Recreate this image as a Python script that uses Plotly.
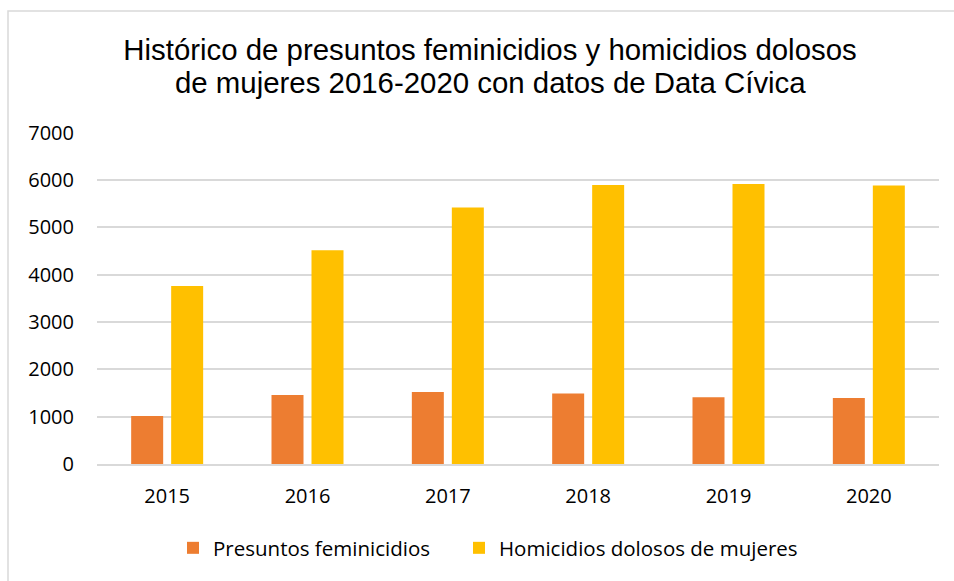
import plotly.graph_objects as go

years = ["2015", "2016", "2017", "2018", "2019", "2020"]
feminicidios = [1015, 1456, 1519, 1491, 1413, 1392]
homicidios = [3762, 4515, 5422, 5893, 5914, 5886]
series_names = ["Presuntos feminicidios", "Homicidios dolosos de mujeres"]
title_line1 = "Histórico de presuntos feminicidios y homicidios dolosos"
title_line2 = "de mujeres 2016-2020 con datos de Data Cívica"

W, H = 954, 581
L, R, T, B = 97, 15, 132, 117
pw, ph = W - L - R, H - T - B

def px_x(x):
    return (x - L) / pw

def px_y(y):
    return (H - B - y) / ph

fig = go.Figure()
fig.add_trace(go.Bar(x=years, y=feminicidios, name=series_names[0], legend="legend",
                     marker=dict(color="#ED7D31", line=dict(width=0))))
fig.add_trace(go.Bar(x=years, y=homicidios, name=series_names[1], legend="legend2",
                     marker=dict(color="#FFC000", line=dict(width=0))))

title_font = dict(family="Liberation Sans, Arial", size=29.4, color="#000000")
legend_font = dict(family="Open Sans", size=20.5, color="#000000")
fig.update_layout(
    width=W, height=H,
    margin=dict(l=L, r=R, t=T, b=B, pad=0),
    paper_bgcolor="white", plot_bgcolor="white",
    barmode="group", bargap=0.43, bargroupgap=0.2,
    title=dict(text=title_line1, x=490 / W, xanchor="center", xref="container",
               y=1 - 50 / H, yanchor="middle", yref="container",
               font=title_font),
    annotations=[dict(text=title_line2, xref="paper", yref="paper",
                      x=px_x(490), y=px_y(83), xanchor="center", yanchor="middle",
                      showarrow=False, font=title_font)],
    font=dict(family="Open Sans", size=20, color="#000000"),
    showlegend=True,
    legend=dict(orientation="h", x=px_x(173), xanchor="left",
                y=px_y(548), yanchor="middle",
                font=legend_font, bgcolor="rgba(0,0,0,0)"),
    legend2=dict(orientation="h", x=px_x(459), xanchor="left",
                 y=px_y(548), yanchor="middle",
                 font=legend_font, bgcolor="rgba(0,0,0,0)"),
    shapes=[dict(type="rect", xref="paper", yref="paper",
                 x0=px_x(8), x1=1.2, y0=-0.6, y1=px_y(11),
                 line=dict(color="#D9D9D9", width=1.5), layer="below")],
)
fig.update_xaxes(showgrid=False, showline=True, linecolor="#D9D9D9", linewidth=1.5,
                 ticks="", ticklabelstandoff=13,
                 tickfont=dict(family="Open Sans", size=20, color="#000000"))
fig.update_yaxes(range=[0, 7015], tickvals=[0, 1000, 2000, 3000, 4000, 5000, 6000, 7000],
                 showgrid=True, gridcolor="#D9D9D9",
                 gridwidth=1.5, zeroline=False, showline=False, ticks="",
                 ticklabelstandoff=22,
                 tickfont=dict(family="Open Sans", size=20, color="#000000"))

fig.write_html("out.html", config={"displayModeBar": False},
               post_script="document.body.style.margin='0';")
